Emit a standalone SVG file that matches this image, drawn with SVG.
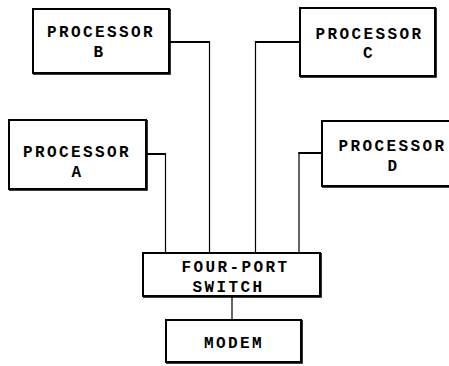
<svg xmlns="http://www.w3.org/2000/svg" width="449" height="366" viewBox="0 0 449 366">
<style>
.box{fill:#fff;stroke:#000;stroke-width:2}
.sh{fill:none;stroke:#000;stroke-width:1.6}
.lbl{font-family:"Liberation Mono","DejaVu Sans Mono",monospace;font-weight:bold;font-size:16px;letter-spacing:2.4px;fill:#000}
.stub{fill:none;stroke:#000;stroke-width:2}
.wire{fill:none;stroke:#000;stroke-width:1.2}
</style>
<rect width="449" height="366" fill="#fff"/>
<g id="connectors">
<path class="stub" d="M146,154 H165.5"/>
<path class="wire" d="M165.5,153 V253"/>
<path class="stub" d="M169,42 H210"/>
<path class="wire" d="M209.5,41 V253"/>
<path class="stub" d="M300,42 H255"/>
<path class="wire" d="M255.5,41 V253"/>
<path class="stub" d="M322,153 H298.5"/>
<path class="wire" d="M299,152 V253"/>
<path class="wire" d="M232,297 V320"/>
</g>
<g id="processor-b">
<rect class="box" x="33" y="9" width="136" height="64"/>
<path class="sh" d="M170,9 V74 H33"/>
<text class="lbl" x="47" y="37">PROCESSOR</text>
<text class="lbl" x="93.5" y="57">B</text>
</g>
<g id="processor-a">
<rect class="box" x="9" y="120" width="137" height="69"/>
<path class="sh" d="M147,120 V190 H9"/>
<text class="lbl" x="23" y="157">PROCESSOR</text>
<text class="lbl" x="71.5" y="177">A</text>
</g>
<g id="processor-c">
<rect class="box" x="300" y="8" width="135" height="68"/>
<path class="sh" d="M436,8 V77 H300"/>
<text class="lbl" x="315.5" y="38.5">PROCESSOR</text>
<text class="lbl" x="363" y="57.5">C</text>
</g>
<g id="processor-d">
<rect class="box" x="322" y="121" width="140" height="65"/>
<path class="sh" d="M322,187 H462"/>
<text class="lbl" x="338.5" y="151">PROCESSOR</text>
<text class="lbl" x="387.5" y="171">D</text>
</g>
<g id="switch">
<rect class="box" x="143" y="253" width="177" height="43"/>
<path class="sh" d="M321,253 V297 H143"/>
<text class="lbl" x="181.5" y="272">FOUR-PORT</text>
<text class="lbl" x="192.5" y="292">SWITCH</text>
</g>
<g id="modem">
<rect class="box" x="166" y="320" width="135" height="42"/>
<path class="sh" d="M302,320 V363 H166"/>
<text class="lbl" x="204" y="348">MODEM</text>
</g>
</svg>
